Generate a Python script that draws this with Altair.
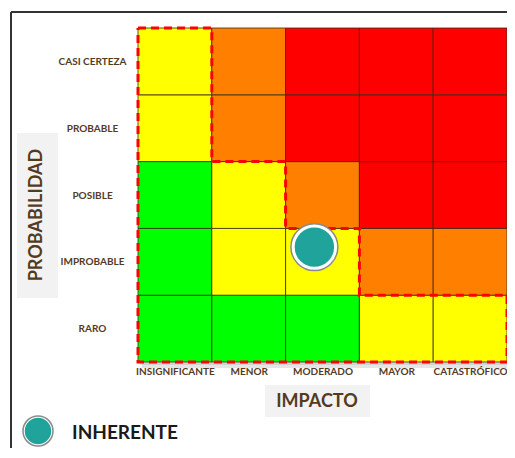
import altair as alt
import pandas as pd

# ---- data ----
impact = ["INSIGNIFICANTE", "MENOR", "MODERADO", "MAYOR", "CATASTRÓFICO"]
probability = ["RARO", "IMPROBABLE", "POSIBLE", "PROBABLE", "CASI CERTEZA"]  # bottom -> top
levels = [
    ["Bajo", "Bajo", "Bajo", "Moderado", "Moderado"],          # RARO
    ["Bajo", "Moderado", "Moderado", "Alto", "Alto"],          # IMPROBABLE
    ["Bajo", "Moderado", "Alto", "Extremo", "Extremo"],        # POSIBLE
    ["Moderado", "Alto", "Extremo", "Extremo", "Extremo"],     # PROBABLE
    ["Moderado", "Alto", "Extremo", "Extremo", "Extremo"],     # CASI CERTEZA
]
level_names = ["Bajo", "Moderado", "Alto", "Extremo"]
level_colors = ["#00FF00", "#FFFF00", "#FF8000", "#FF0000"]

# boundary of acceptable zone (impact index, probability index)
border_x = [0, 1, 1, 2, 2, 3, 3, 5, 5, 0, 0]
border_y = [5, 5, 3, 3, 2, 2, 1, 1, 0, 0, 5]

# inherent risk position
risk_x = [2.39]
risk_y = [1.72]
risk_label = ["INHERENTE"]

# ---- tables ----
cells = []
for j, p in enumerate(probability):
    for i, imp in enumerate(impact):
        cells.append({"x": i, "x2": i + 1, "y": j, "y2": j + 1,
                      "impacto": imp, "prob": p, "nivel": levels[j][i]})
cells = pd.DataFrame(cells)
border = pd.DataFrame({"bx": border_x, "by": border_y, "o": list(range(len(border_x)))})
risk = pd.DataFrame({"rx": risk_x, "ry": risk_y, "label": risk_label})

W, H = 369, 334
TXT = "#543b1f"
FONT = "Lato"

xs = alt.Scale(domain=[0, 5], nice=False, zero=False)
ys = alt.Scale(domain=[0, 5], nice=False, zero=False)

x_expr = "[" + ",".join("'%s'" % s for s in impact) + "][floor(datum.value)]"
y_expr = "[" + ",".join("'%s'" % s for s in probability) + "][floor(datum.value)]"

one = alt.Data(values=[{}])

# frame lines
frame_left = alt.Chart(one).mark_rule(color="#333333", strokeWidth=2).encode(
    x=alt.value(-127), y=alt.value(-16), y2=alt.value(440))
frame_top = alt.Chart(one).mark_rule(color="#333333", strokeWidth=2).encode(
    x=alt.value(-127), x2=alt.value(400), y=alt.value(-16))

# soft shadow
shadow1 = alt.Chart(one).mark_rect(color="#000000", opacity=0.10).encode(
    x=alt.value(4), x2=alt.value(W + 6), y=alt.value(4), y2=alt.value(H + 6))
shadow2 = alt.Chart(one).mark_rect(color="#000000", opacity=0.08).encode(
    x=alt.value(2), x2=alt.value(W + 3), y=alt.value(2), y2=alt.value(H + 3))

grid = alt.Chart(cells).mark_rect(stroke="#3a2a14", strokeWidth=1, strokeOpacity=0.8).encode(
    x=alt.X("x:Q", scale=xs, axis=alt.Axis(
        values=[0.5, 1.5, 2.5, 3.5, 4.5], labelExpr=x_expr, title=None,
        domain=False, ticks=False, tickSize=0, grid=False, labelPadding=4,
        labelFont=FONT, labelFontSize=10, labelFontWeight="bold", labelColor=TXT)),
    x2="x2:Q",
    y=alt.Y("y:Q", scale=ys, axis=alt.Axis(
        values=[0.5, 1.5, 2.5, 3.5, 4.5], labelExpr=y_expr, title=None,
        domain=False, ticks=False, tickSize=0, grid=False, labelPadding=46,
        labelAlign="center", labelFont=FONT, labelFontSize=10,
        labelFontWeight="bold", labelColor=TXT)),
    y2="y2:Q",
    color=alt.Color("nivel:N", scale=alt.Scale(domain=level_names, range=level_colors), legend=None),
)

border_line = alt.Chart(border).mark_line(
    color="#FF0000", strokeWidth=3, strokeDash=[8, 5], strokeCap="butt").encode(
    x=alt.X("bx:Q", scale=xs), y=alt.Y("by:Q", scale=ys), order="o:Q")

ring = alt.Chart(risk).mark_point(shape="circle", filled=True, fill="#ffffff",
                                  stroke="#8a8a8a", strokeWidth=1.5, size=2200, opacity=1).encode(
    x=alt.X("rx:Q", scale=xs), y=alt.Y("ry:Q", scale=ys))
dot = alt.Chart(risk).mark_point(shape="circle", filled=True, fill="#1fa39b",
                                 stroke="#1fa39b", size=1400, opacity=1).encode(
    x=alt.X("rx:Q", scale=xs), y=alt.Y("ry:Q", scale=ys))

# axis title boxes
imp_box = alt.Chart(one).mark_rect(color="#f2f2f2").encode(
    x=alt.value(127), x2=alt.value(232), y=alt.value(357), y2=alt.value(389))
imp_txt = alt.Chart(one).mark_text(text="IMPACTO", font=FONT, fontSize=18, fontWeight="bold",
                                   color=TXT, align="center", baseline="middle").encode(
    x=alt.value(179), y=alt.value(374))
prob_box = alt.Chart(one).mark_rect(color="#f2f2f2").encode(
    x=alt.value(-121), x2=alt.value(-80), y=alt.value(105), y2=alt.value(270))
prob_txt = alt.Chart(one).mark_text(text="PROBABILIDAD", font=FONT, fontSize=18, fontWeight="bold",
                                    color=TXT, align="center", baseline="middle", angle=270).encode(
    x=alt.value(-101), y=alt.value(187))

# legend
leg_ring = alt.Chart(risk).mark_point(shape="circle", filled=True, fill="#ffffff",
                                      stroke="#8a8a8a", strokeWidth=1.5, size=900, opacity=1).encode(
    x=alt.value(-100), y=alt.value(403))
leg_dot = alt.Chart(risk).mark_point(shape="circle", filled=True, fill="#1fa39b",
                                     stroke="#1fa39b", size=600, opacity=1).encode(
    x=alt.value(-100), y=alt.value(403))
leg_txt = alt.Chart(risk).mark_text(font=FONT, fontSize=19, fontWeight="bold", color="#1a1a1a",
                                    align="left", baseline="middle").encode(
    x=alt.value(-66), y=alt.value(405), text="label:N")

chart = alt.layer(
    frame_left, frame_top, shadow1, shadow2, grid, border_line, ring, dot,
    imp_box, imp_txt, prob_box, prob_txt, leg_ring, leg_dot, leg_txt
).properties(
    width=W, height=H,
    autosize=alt.AutoSizeParams(type="none"),
    padding={"left": 130, "top": 20, "right": 0, "bottom": 86},
    background="#ffffff",
).configure_view(stroke=None)

chart.save("out.html", embed_options={"renderer": "svg", "actions": False})
